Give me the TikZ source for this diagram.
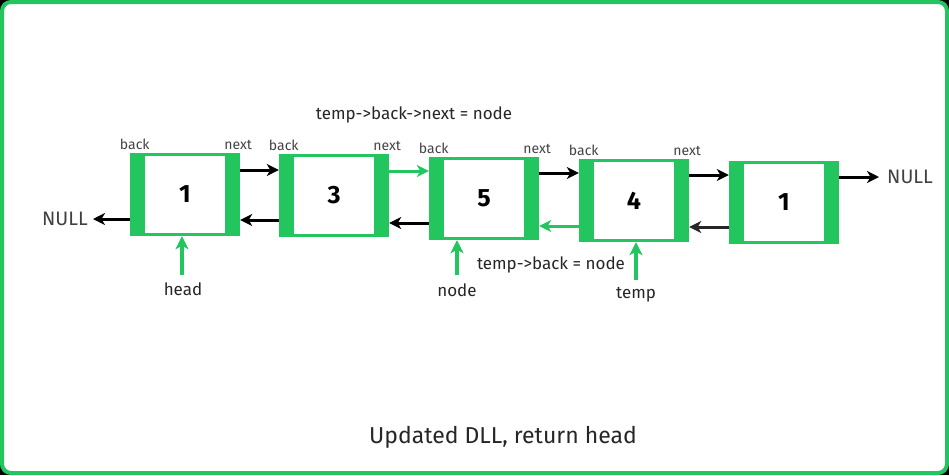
\documentclass[tikz,border=0pt]{standalone}
\usepackage{fontspec}
\setmainfont{Fira Sans}
\usetikzlibrary{arrows.meta}
\definecolor{gg}{HTML}{22C55E}
\definecolor{lbl}{HTML}{444444}
\tikzset{
  outerbox/.style={fill=gg,draw=none,minimum width=110pt,minimum height=83pt,inner sep=0pt},
  innerbox/.style={fill=white,draw=none,minimum width=80pt,minimum height=77pt,inner sep=0pt,font=\fontsize{25}{28}\selectfont\bfseries},
  arr/.style={line width=3pt,-{Stealth[length=12pt,width=12pt,inset=3.5pt]}},
  blk/.style={arr,black},
  grn/.style={arr,gg},
  ptr/.style={line width=3.5pt,gg,-{Stealth[length=13pt,width=13pt,inset=3.5pt]}},
  small/.style={font=\fontsize{14}{16}\selectfont,text=lbl,inner sep=0pt},
  mid/.style={font=\fontsize{17}{19}\selectfont,text=black!85,inner sep=0pt},
  nul/.style={font=\fontsize{19.5}{22}\selectfont,text=black!75,inner sep=0pt},
}
\begin{document}
\begin{tikzpicture}[x=1pt,y=-1pt]
\fill[black] (0,0) rectangle (949,475);
\useasboundingbox (0,0) rectangle (949,475);
\draw[gg,line width=4pt,fill=white,rounded corners=9pt] (2,2) rectangle (947,473);
% nodes
\node[outerbox] (o1) at (185,194.5) {};
\node[innerbox] (a) at (185,194.5) {1};
\node[outerbox] (o3) at (334,195.5) {};
\node[innerbox] (b) at (334,195.5) {3};
\node[outerbox] (o5) at (484,198.5) {};
\node[innerbox] (c) at (484,198.5) {5};
\node[outerbox] (o4) at (634,200.5) {};
\node[innerbox] (d) at (634,200.5) {4};
\node[outerbox] (o6) at (784,202.5) {};
\node[innerbox] (e) at (784,202.5) {1};
% back/next labels
\foreach \n in {o1,o3,o5,o4} {
  \node[small,anchor=base] at ([xshift=5pt,yshift=3pt]\n.north west) {back};
  \node[small,anchor=base] at ([xshift=-2pt,yshift=3pt]\n.north east) {next};
}
% NULLs
\node[nul,anchor=east] (nl) at (88,219) {NULL};
\node[nul,anchor=west] (nr) at (887,177) {NULL};
% connectors
\draw[blk] (o1.east |- 0,170) -- (o3.west |- 0,170);
\draw[blk] (o3.west |- 0,220) -- (o1.east |- 0,220);
\draw[blk] (o1.west |- 0,219) -- ([xshift=5pt]nl.east |- 0,219);
\draw[grn] (o3.east |- 0,171) -- (o5.west |- 0,171);
\draw[blk] (o5.west |- 0,223) -- (o3.east |- 0,223);
\draw[blk] (o5.east |- 0,173) -- (o4.west |- 0,173);
\draw[grn] (o4.west |- 0,226) -- (o5.east |- 0,226);
\draw[blk] (o4.east |- 0,175) -- (o6.west |- 0,175);
\draw[blk,black!85] (o6.west |- 0,227) -- (o4.east |- 0,227);
\draw[blk] (o6.east |- 0,177) -- ([xshift=-8pt]nr.west |- 0,177);
% pointers
\node[mid] (head) at (183,289) {head};
\node[mid] (nd) at (457,290) {node};
\node[mid] (tp) at (636,295) {temp};
\draw[ptr] (182,275) -- (o1.south -| 182,0);
\draw[ptr] (457,275) -- (o5.south -| 457,0);
\draw[ptr] (636,280) -- (o4.south -| 636,0);
% captions
\node[mid] (c1) at (414,115) {temp->back->next = node};
\node[mid] (c2) at (551,265) {temp->back = node};
\node[font=\fontsize{23}{26}\selectfont,text=black!85,inner sep=0pt] (t) at (503,437) {Updated DLL, return head};
\end{tikzpicture}
\end{document}
